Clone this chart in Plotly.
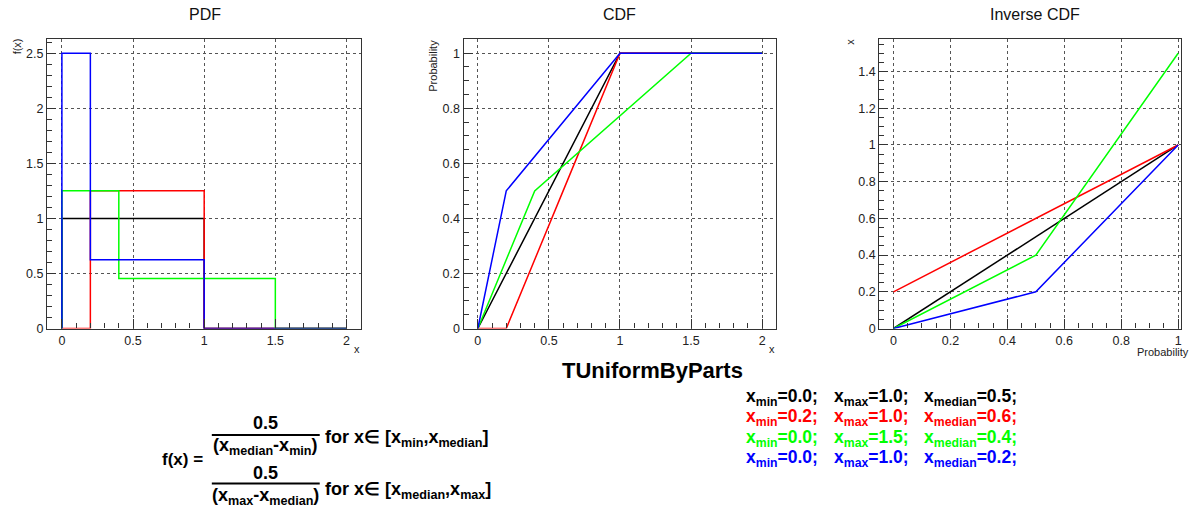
import plotly.graph_objects as go

# ---- data (parameters of the four TUniformByParts functions) ----
x_min = [0.0, 0.2, 0.0, 0.0]
x_max = [1.0, 1.0, 1.5, 1.0]
x_median = [0.5, 0.6, 0.4, 0.2]
pdf_low = [1.0, 1.25, 1.25, 2.5]        # density on [x_min, x_median]
pdf_high = [1.0, 1.25, 0.4545, 0.625]   # density on [x_median, x_max]
prob_levels = [0.0, 0.5, 1.0]
x_end = 2.0
colors = ["#000000", "#ff0000", "#00ff00", "#0000ff"]
panel_titles = ["PDF", "CDF", "Inverse CDF"]
main_title = "TUniformByParts"

W, H = 1196, 518
FONT = "Liberation Sans"


def px(x):
    return x / W


def py(y):
    return 1 - y / H


fig = go.Figure()

for i in range(4):
    c = colors[i]
    # PDF
    fig.add_trace(go.Scatter(
        x=[0.0, x_min[i], x_median[i], x_max[i], x_end],
        y=[0.0, pdf_low[i], pdf_high[i], 0.0, 0.0],
        mode="lines", line=dict(color=c, width=1.5, shape="hv"),
        xaxis="x", yaxis="y", showlegend=False, hoverinfo="skip"))
    # CDF
    fig.add_trace(go.Scatter(
        x=[0.0, x_min[i], x_median[i], x_max[i], x_end],
        y=[0.0, prob_levels[0], prob_levels[1], prob_levels[2], prob_levels[2]],
        mode="lines", line=dict(color=c, width=1.5),
        xaxis="x2", yaxis="y2", showlegend=False, hoverinfo="skip"))
    # Inverse CDF
    fig.add_trace(go.Scatter(
        x=prob_levels,
        y=[x_min[i], x_median[i], x_max[i]],
        mode="lines", line=dict(color=c, width=1.5),
        xaxis="x3", yaxis="y3", showlegend=False, hoverinfo="skip"))

y_dom = [py(333), py(40)]


def axis(domain, rng, dtick, minor_dtick, anchor):
    return dict(
        domain=domain, range=rng, anchor=anchor,
        showline=True, linecolor="#333", linewidth=1.2, mirror=True,
        ticks="inside", ticklen=9, tickcolor="#333", tickwidth=1,
        tick0=0, dtick=dtick,
        showgrid=True, gridcolor="#555", griddash="dot", gridwidth=1,
        zeroline=False,
        tickfont=dict(family=FONT, size=12.5, color="#222"),
        minor=dict(ticks="inside", ticklen=5, tickcolor="#333", dtick=minor_dtick,
                   tick0=0, showgrid=False),
    )


fig.update_layout(
    width=W, height=H,
    margin=dict(l=0, r=0, t=0, b=0),
    paper_bgcolor="white", plot_bgcolor="white",
    xaxis=axis([px(47), px(361)], [-0.105, 2.1], 0.5, 0.1, "y"),
    yaxis=axis(y_dom, [0, 2.625], 0.5, 0.1, "x"),
    xaxis2=axis([px(464), px(777)], [-0.1, 2.1], 0.5, 0.1, "y2"),
    yaxis2=axis(y_dom, [0, 1.05], 0.2, 0.05, "x2"),
    xaxis3=axis([px(880), px(1182)], [-0.05, 1.01], 0.2, 0.05, "y3"),
    yaxis3=axis(y_dom, [0, 1.575], 0.2, 0.05, "x3"),
)

ann = []


def text(x, y, s, size, color="black", xanchor="center", yanchor="middle", angle=0):
    ann.append(dict(x=px(x), y=py(y), xref="paper", yref="paper", text=s,
                    showarrow=False, xanchor=xanchor, yanchor=yanchor,
                    textangle=angle,
                    font=dict(family=FONT, size=size, color=color)))


# panel titles
for xc, t in zip([205, 620, 1036], panel_titles):
    text(xc, 15, t, 16, "#111")

# axis titles
text(17, 47, "f(x)", 11, "#222", angle=-90)
text(357, 354, "x", 11, "#222")
text(433, 67, "Probability", 11, "#222", angle=-90)
text(773, 354, "x", 11, "#222")
text(851, 42, "x", 11, "#222", angle=-90)
text(1192, 357, "Probability", 11, "#222", xanchor="right")

# main title
text(653, 376, "<b>" + main_title + "</b>", 22)

# formula
text(160, 466, "<b>f(x) =</b>", 17, xanchor="left")
text(266, 429, "<b>0.5</b>", 18)
text(266, 453, "<b>(x<sub>median</sub>-x<sub>min</sub>)</b>", 18)
text(323, 445, "<b>for x∈ [x<sub>min</sub>,x<sub>median</sub>]</b>", 18, xanchor="left")
text(266, 479, "<b>0.5</b>", 18)
text(266, 503, "<b>(x<sub>max</sub>-x<sub>median</sub>)</b>", 18)
text(323, 497, "<b>for x∈ [x<sub>median</sub>,x<sub>max</sub>]</b>", 18, xanchor="left")

shapes = []
for yl in [441, 490]:
    shapes.append(dict(type="line", xref="paper", yref="paper",
                       x0=px(212), x1=px(320), y0=py(yl), y1=py(yl),
                       line=dict(color="black", width=2)))

# parameter legend
row_y = [403, 423, 444, 465]
for i in range(4):
    c = colors[i]
    text(745, row_y[i], "<b>x<sub>min</sub>=%.1f;</b>" % x_min[i], 17.5, c, xanchor="left")
    text(833, row_y[i], "<b>x<sub>max</sub>=%.1f;</b>" % x_max[i], 17.5, c, xanchor="left")
    text(923, row_y[i], "<b>x<sub>median</sub>=%.1f;</b>" % x_median[i], 17.5, c, xanchor="left")

fig.update_layout(annotations=ann, shapes=shapes)

fig.write_html("out.html",
               config={"displayModeBar": False},
               post_script="document.body.style.margin='0px';document.body.style.overflow='hidden';")
